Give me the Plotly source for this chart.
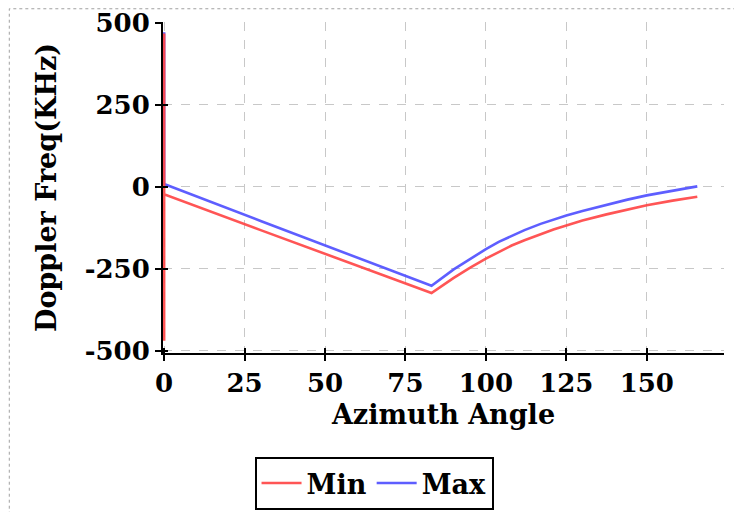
import plotly.graph_objects as go

# Azimuth angle (deg) and Doppler frequency (KHz)
min_angle = [0, 0, 0, 30, 55, 83.1, 90, 95, 100, 104, 108, 112, 117, 121, 125, 130, 137.5, 144, 150, 158, 165.7]
min_freq = [468, -470, -23, -132, -222, -324, -278, -247, -219, -198, -179, -163, -144, -130, -118, -103, -84, -69, -56, -42, -30]

max_angle = [0, 0, 30, 55, 83.1, 90, 95, 100, 104, 108, 112, 117, 121, 125, 130, 137.5, 144, 150, 158, 165.7]
max_freq = [472, 8.5, -104, -197, -302, -252, -220, -190, -168, -149, -132, -113, -100, -87.5, -73.5, -54, -39, -26, -11, 1.5]

x_ticks = [0, 25, 50, 75, 100, 125, 150]
y_ticks = [-500, -250, 0, 250, 500]

X_RANGE = [-0.35, 174]
Y_RANGE = [-507, 503]

FONT = "DejaVu Serif"
RED = "rgba(255,70,70,0.92)"
BLUE = "rgba(85,85,255,0.95)"

fig = go.Figure()
fig.add_trace(go.Scatter(x=max_angle, y=max_freq, mode="lines", name="Max",
                         line=dict(color=BLUE, width=2.6), legendrank=2))
fig.add_trace(go.Scatter(x=min_angle, y=min_freq, mode="lines", name="Min",
                         line=dict(color=RED, width=2.6), legendrank=1))
# empty trace to carry the inner tick overlay axes
fig.add_trace(go.Scatter(x=[], y=[], xaxis="x2", yaxis="y2", showlegend=False, hoverinfo="skip"))

tick_font = dict(family=FONT, size=26, color="black", weight="bold")
title_font = dict(family=FONT, size=27, color="black", weight="bold")

fig.update_layout(
    width=742, height=512,
    margin=dict(l=155, r=26, t=14, b=167, autoexpand=False),
    paper_bgcolor="white", plot_bgcolor="white",
    font=dict(family=FONT, color="black"),
    xaxis=dict(range=X_RANGE, tickvals=x_ticks, ticktext=[str(v) for v in x_ticks],
               showline=True, linecolor="black", linewidth=2,
               ticks="outside", ticklen=6, tickwidth=2, tickcolor="black",
               showgrid=True, gridcolor="#c8c8c8", griddash="dash", gridwidth=1,
               zeroline=False, tickfont=tick_font, automargin=False,
               ticklabeloverflow="allow", layer="below traces",
               title=dict(text="Azimuth Angle", font=title_font, standoff=8)),
    yaxis=dict(range=Y_RANGE, tickvals=y_ticks, ticktext=[str(v) for v in y_ticks],
               showline=True, linecolor="black", linewidth=2,
               ticks="outside", ticklen=6, tickwidth=2, tickcolor="black",
               showgrid=True, gridcolor="#c8c8c8", griddash="dash", gridwidth=1,
               zeroline=False, tickfont=tick_font, automargin=False,
               ticklabeloverflow="allow", layer="below traces",
               title=dict(text="Doppler Freq(KHz)", font=title_font, standoff=20)),
    xaxis2=dict(overlaying="x", matches="x", range=X_RANGE, tickvals=x_ticks,
                showticklabels=False, ticks="inside", ticklen=5, tickwidth=2,
                tickcolor="black", showgrid=False, zeroline=False, showline=False,
                side="bottom", automargin=False),
    yaxis2=dict(overlaying="y", matches="y", range=Y_RANGE, tickvals=y_ticks,
                showticklabels=False, ticks="inside", ticklen=5, tickwidth=2,
                tickcolor="black", showgrid=False, zeroline=False, showline=False,
                side="left", automargin=False),
    legend=dict(orientation="h", xref="container", yref="container",
                x=0.4933, xanchor="center", y=0.0195, yanchor="bottom",
                bordercolor="black", borderwidth=2, bgcolor="white",
                font=dict(family=FONT, size=27, color="black", weight="bold"),
                itemwidth=40),
    shapes=[dict(type="rect", xref="paper", yref="paper",
                 x0=-0.274, x1=1.06, y0=-0.55, y1=1.04,
                 line=dict(color="#a0a0a0", width=1, dash="dot"),
                 fillcolor="rgba(0,0,0,0)", layer="below")],
)

fig.write_html("out.html")
